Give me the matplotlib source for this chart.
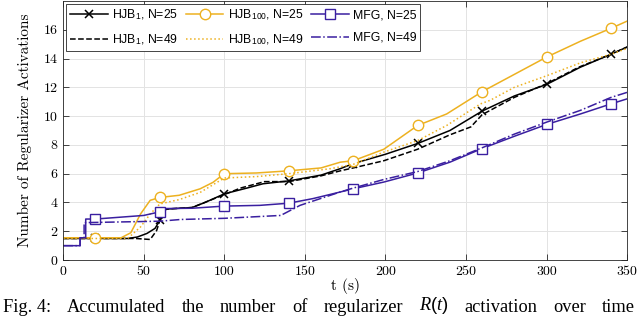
import numpy as np
import matplotlib
matplotlib.use('Agg')
import matplotlib.pyplot as plt

plt.rcParams['mathtext.fontset'] = 'custom'
plt.rcParams['mathtext.rm'] = 'Liberation Sans'
plt.rcParams['mathtext.it'] = 'Liberation Serif:italic'

t_hjb1_25 = [0, 20, 40, 46, 52, 57, 60, 62, 65, 80, 88, 100, 114, 124, 140, 160, 172,
             180, 200, 220, 240, 260, 280, 300, 321, 340, 350]
v_hjb1_25 = [1.5, 1.5, 1.5, 1.6, 1.85, 2.2, 2.75, 3.45, 3.55, 3.65, 4.0, 4.6, 5.0, 5.3,
             5.5, 5.9, 6.35, 6.7, 7.35, 8.1, 9.0, 10.35, 11.4, 12.2, 13.4, 14.3, 14.8]

t_hjb1_49 = [0, 45, 54, 58, 60, 61, 65, 80, 90, 100, 110, 125, 140, 160, 172, 180, 199,
             220, 240, 253, 260, 280, 300, 320, 340, 350]
v_hjb1_49 = [1.5, 1.5, 1.43, 2.05, 2.75, 3.5, 3.55, 3.65, 4.1, 4.55, 5.0, 5.45, 5.45,
             5.85, 6.2, 6.4, 6.9, 7.7, 8.7, 9.25, 10.1, 11.3, 12.25, 13.4, 14.3, 14.8]

t_hjb100_25 = [0, 20, 36, 42, 48, 54, 60, 72, 85, 93, 100, 120, 140, 160, 172, 180, 199,
               220, 238, 260, 280, 300, 321, 340, 350]
v_hjb100_25 = [1.55, 1.55, 1.55, 1.9, 3.2, 4.15, 4.35, 4.5, 4.95, 5.4, 6.0, 6.05, 6.2,
               6.4, 6.8, 6.9, 7.7, 9.35, 10.15, 11.7, 12.9, 14.1, 15.2, 16.1, 16.6]

t_hjb100_49 = [0, 40, 48, 54, 60, 72, 85, 100, 120, 140, 166, 180, 199, 220, 238, 259,
               265, 280, 300, 321, 340, 350]
v_hjb100_49 = [1.5, 1.5, 2.3, 3.2, 3.9, 4.2, 4.7, 5.7, 5.8, 6.0, 6.35, 6.65, 7.5, 8.3,
               9.35, 10.85, 11.1, 12.0, 12.8, 13.7, 14.3, 14.7]

t_mfg_25 = [0, 10.5, 10.5, 14, 14, 20, 50, 60, 64, 80, 100, 122, 140, 155, 172, 180, 199,
            220, 240, 260, 280, 300, 321, 340, 350]
v_mfg_25 = [1.0, 1.0, 1.55, 1.55, 2.85, 2.85, 3.1, 3.35, 3.58, 3.6, 3.75, 3.8, 3.95, 4.27,
            4.73, 4.95, 5.42, 6.05, 6.8, 7.75, 8.6, 9.42, 10.15, 10.85, 11.2]

t_mfg_49 = [0, 10.5, 10.5, 13, 13, 60, 73, 100, 135, 147, 172, 180, 199, 220, 240, 260, 280,
            300, 321, 340, 350]
v_mfg_49 = [1.0, 1.0, 1.55, 1.55, 2.6, 2.7, 2.82, 2.9, 3.1, 3.8, 4.73, 5.0, 5.6, 6.15, 6.9,
            7.8, 8.75, 9.58, 10.4, 11.3, 11.65]

t_marks = [20, 60, 100, 140, 180, 220, 260, 300, 340]

caption_words = ['Fig. 4:', 'Accumulated', 'the', 'number', 'of', 'regularizer',
                 '$\\mathit{R(t)}$', 'activation', 'over', 'time']

black = 'black'
yellow = '#EDB120'
blue = '#3A1FA0'


def marks(t):
    t = np.array(t)
    return [int(np.where(t == m)[0][-1]) for m in t_marks if m in t]


fig = plt.figure(figsize=(6.38, 3.16), dpi=100)
ax = fig.add_axes([0.099, 0.177, 0.884, 0.82])

l1, = ax.plot(t_hjb1_25, v_hjb1_25, '-', color=black, lw=1.1, marker='x', ms=6, mew=1.1,
              markevery=marks(t_hjb1_25), label='HJB$_1$, N=25')
l2, = ax.plot(t_hjb1_49, v_hjb1_49, '--', color=black, lw=1.1, label='HJB$_1$, N=49')
l3, = ax.plot(t_hjb100_25, v_hjb100_25, '-', color=yellow, lw=1.1, marker='o', ms=7.5,
              mfc='white', mew=1.0, markevery=marks(t_hjb100_25), label='HJB$_{100}$, N=25')
l4, = ax.plot(t_hjb100_49, v_hjb100_49, ':', color=yellow, lw=1.1, label='HJB$_{100}$, N=49')
l5, = ax.plot(t_mfg_25, v_mfg_25, '-', color=blue, lw=1.1, marker='s', ms=6.5,
              mfc='white', mew=1.0, markevery=marks(t_mfg_25), label='MFG, N=25')
l6, = ax.plot(t_mfg_49, v_mfg_49, '-.', color=blue, lw=1.1, label='MFG, N=49')

ax.set_xlim(0, 350)
ax.set_ylim(0, 18)
ax.set_xticks(np.arange(0, 351, 50))
ax.set_yticks(np.arange(0, 17, 2))
ax.grid(True, color='#e3e3e3', lw=0.7)
ax.set_axisbelow(True)
ax.tick_params(direction='in', top=True, right=True, length=4, width=0.6, colors='#262626',
               labelsize=10, pad=4)
for lab in ax.get_xticklabels() + ax.get_yticklabels():
    lab.set_fontfamily('cmr10')
    lab.set_color('black')
for s in ax.spines.values():
    s.set_color('#262626')
    s.set_linewidth(0.6)

ax.set_xlabel('t (s)', fontfamily='cmr10', fontsize=11, labelpad=0)
ax.set_ylabel('Number of Regularizer Activations', fontfamily='cmr10', fontsize=11, labelpad=8)

leg = ax.legend(handles=[l1, l2, l3, l4, l5, l6], ncol=3, loc='upper left',
                prop={'family': 'Liberation Sans', 'size': 8.8}, handlelength=3.1,
                columnspacing=0.6, handletextpad=0.35, borderaxespad=0.25,
                fancybox=False, framealpha=1, borderpad=0.3, labelspacing=0.85)
leg.get_frame().set_edgecolor('#262626')
leg.get_frame().set_linewidth(0.6)

# caption, justified across the figure width
x0, x1 = 3.0, 635.0
cap = [fig.text(0, 0.0, w, fontfamily='Liberation Serif', fontsize=13.2, va='bottom')
       for w in caption_words]
rend = fig.canvas.get_renderer()
widths = [c.get_window_extent(rend).width for c in cap]
gap = (x1 - x0 - sum(widths)) / (len(cap) - 1)
x = x0
for c, w in zip(cap, widths):
    c.set_x(x / fig.bbox.width)
    x += w + gap

fig.savefig('out.png', dpi=100)
